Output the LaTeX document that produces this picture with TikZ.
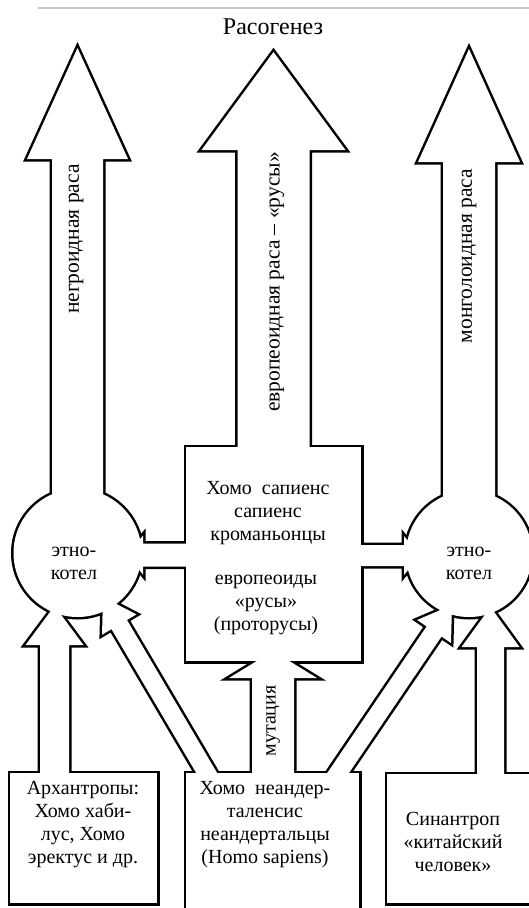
\documentclass[tikz,border=0pt]{standalone}
\usepackage{fontspec}
\setmainfont{Liberation Serif}
\usetikzlibrary{calc}
\pgfdeclarelayer{ink}
\pgfsetlayers{ink,main}
\tikzset{
  ink/.style={draw=black, line width=5pt, line join=miter},
  paper/.style={fill=white},
  txt/.style={align=center, inner sep=0pt, font=\fontsize{20}{23}\selectfont},
  race/.style={inner sep=0pt, rotate=90, font=\fontsize{21.5}{24}\selectfont},
}
% outline of the union of all shapes: stroke below, white fill above
\newcommand{\blob}[1]{%
  \begin{pgfonlayer}{ink}\draw[ink] #1;\end{pgfonlayer}
  \fill[paper] #1;}
% block arrow: foot, tip, shaft half width, head half width, head length
\newcommand{\fatarrow}[5]{%
  \coordinate (fab) at ($(#2)!#5!(#1)$);
  \blob{($(#1)!#3!90:(#2)$) -- ($(fab)!#3!90:(#2)$) -- ($(fab)!#4!90:(#2)$) -- (#2)
    -- ($(fab)!#4!-90:(#2)$) -- ($(fab)!#3!-90:(#2)$) -- ($(#1)!#3!-90:(#2)$) -- cycle}}

\begin{document}
\begin{tikzpicture}[x=1pt, y=-1pt]
  \useasboundingbox (0,0) rectangle (529,908);

  % Rule and title
  \coordinate (ruleL) at (38,8);
  \coordinate (ruleR) at (529,8);
  \draw[gray!45, line width=1.2pt] (ruleL) -- (ruleR);
  \node[txt, font=\fontsize{24}{28}\selectfont] (title) at (273,27) {Расогенез};

  % Ethno-cauldrons and boxes
  \coordinate (potL) at (77.5,553);
  \coordinate (potR) at (469,554);
  \coordinate (sapiens) at (273.5,554);
  \blob{(potL) circle[radius=64]}
  \blob{(potR) circle[radius=63]}
  \blob{(186,447) rectangle (361,661)}
  \blob{(10,773) rectangle (157,903)}
  \blob{(186,773) rectangle (359,920)}
  \blob{(387,774) rectangle (545,903)}

  % Races
  \coordinate (negroTip) at (77.5,48);
  \coordinate (euroTip) at (273.5,52);
  \coordinate (mongolTip) at (469,49);
  \fatarrow{potL}{negroTip}{25.5pt}{50.5pt}{111pt}
  \fatarrow{sapiens}{euroTip}{36pt}{72pt}{98pt}
  \fatarrow{potR}{mongolTip}{26pt}{51pt}{113pt}

  % Sapiens to the cauldrons
  \coordinate (sapW) at (200,555);
  \coordinate (potLin) at (127,555);
  \coordinate (sapE) at (340,555.5);
  \coordinate (potRin) at (420,555.5);
  \fatarrow{sapW}{potLin}{11.5pt}{19.5pt}{16pt}
  \fatarrow{sapE}{potRin}{10.5pt}{19.5pt}{16pt}

  % From the bottom boxes
  \coordinate (archOut) at (54.5,800);
  \coordinate (potLbot) at (54.5,606);
  \coordinate (neanOutL) at (212,782);
  \coordinate (potLdiag) at (103,597);
  \coordinate (neanOut) at (273,790);
  \coordinate (sapIn) at (273,651);
  \coordinate (neanOutR) at (332,782);
  \coordinate (potRdiag) at (452,605);
  \coordinate (sinanOut) at (490.5,800);
  \coordinate (potRbot) at (490.5,607);
  \fatarrow{archOut}{potLbot}{14.5pt}{29pt}{39pt}
  \fatarrow{neanOutL}{potLdiag}{9pt}{20pt}{32pt}
  \fatarrow{neanOut}{sapIn}{21pt}{44pt}{27pt}
  \fatarrow{neanOutR}{potRdiag}{9pt}{20.5pt}{32pt}
  \fatarrow{sinanOut}{potRbot}{13.5pt}{29pt}{40pt}

  % Texts
  \node[txt] (cauldronL) at (74,563) {этно-\\котел};
  \node[txt] (cauldronR) at (469,563) {этно-\\котел};
  \node[txt] (sapText) at (268,513) {Хомо~~сапиенс\\сапиенс\\кроманьонцы};
  \node[txt] (rusText) at (266,605) {европеоиды\\«русы»\\(проторусы)};
  \node[txt] (archText) at (83,825) {Архантропы:\\Хомо хаби-\\лус, Хомо\\эректус и др.};
  \node[txt] (neanText) at (265,825) {Хомо~~неандер-\\таленсис\\неандертальцы\\(Homo sapiens)};
  \node[txt] (sinanText) at (453,842) {Синантроп\\«китайский\\человек»};
  \node[race] (negroLabel) at (76,239) {негроидная раса};
  \node[race] (euroLabel) at (277,282) {европеоидная раса – «русы»};
  \node[race] (mongolLabel) at (469,256) {монголоидная раса};
  \node[race, font=\fontsize{20}{23}\selectfont] (mutLabel) at (273,721) {мутация};
\end{tikzpicture}
\end{document}
